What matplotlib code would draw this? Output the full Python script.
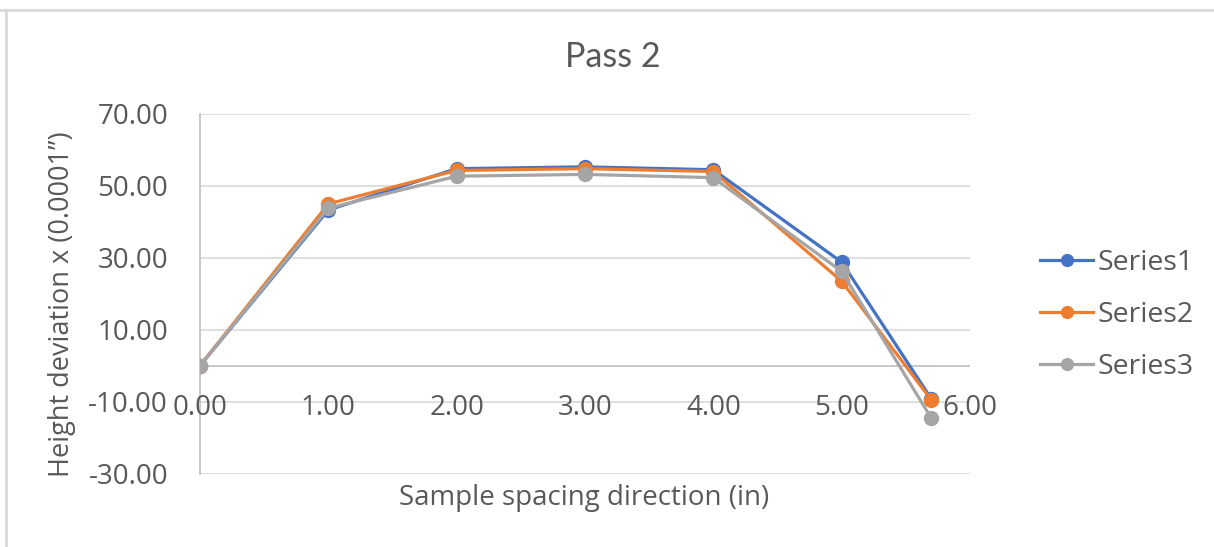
import matplotlib
matplotlib.use("Agg")
import matplotlib.pyplot as plt
from matplotlib.lines import Line2D

# Sample positions along the pass (in) and height deviations (x 0.0001")
x_pos = [0.0, 1.0, 2.0, 3.0, 4.0, 5.0, 5.7]
series1 = [0.0, 43.3, 54.8, 55.3, 54.5, 28.8, -9.3]
series2 = [0.0, 45.0, 54.3, 54.8, 54.0, 23.5, -9.6]
series3 = [0.0, 43.8, 52.7, 53.2, 52.3, 26.2, -14.7]
series_names = ["Series1", "Series2", "Series3"]
series_colors = ["#4472C4", "#ED7D31", "#A5A5A5"]

x_ticks = [0, 1, 2, 3, 4, 5, 6]
y_ticks = [-30, -10, 10, 30, 50, 70]

title = "Pass 2"
x_title = "Sample spacing direction (in)"
y_title = "Height deviation x (0.0001\u201d)"

text_color = "#595959"
grid_color = "#D9D9D9"
axis_color = "#BFBFBF"
tick_size = 20

W, H = 1214, 547
fig = plt.figure(figsize=(W / 100, H / 100), dpi=100)
ax = fig.add_axes([200 / W, 1 - 473.5 / H, 770 / W, 359.5 / H])

for ys, name, col in zip([series1, series2, series3], series_names, series_colors):
    ax.plot(x_pos, ys, color=col, lw=2.3, marker="o", markersize=10,
            markeredgecolor=col, markerfacecolor=col, label=name,
            solid_joinstyle="round", zorder=3)

ax.set_xlim(0, 6)
ax.set_ylim(-30, 70)
ax.set_yticks(y_ticks)
ax.set_yticklabels([f"{v:.2f}" for v in y_ticks])
ax.set_xticks(x_ticks)
ax.set_xticklabels([])

# Horizontal gridlines and the category axis at y = 0
for v in y_ticks:
    ax.axhline(v, color=grid_color, lw=1.2, zorder=1)
ax.axhline(0, color=axis_color, lw=1.2, zorder=1)

for s in ["top", "right", "bottom"]:
    ax.spines[s].set_visible(False)
ax.spines["left"].set_color(axis_color)
ax.spines["left"].set_linewidth(1.2)
ax.spines["left"].set_zorder(1)

ax.tick_params(axis="both", length=0, colors=text_color, labelsize=tick_size)
ax.tick_params(axis="y", pad=23)
for lab in ax.get_yticklabels():
    lab.set_fontfamily("Open Sans")

# X tick labels sit just under the axis line at y = 0
for v in x_ticks:
    ax.text(v, -8.0, f"{v:.2f}", ha="center", va="top", fontsize=tick_size,
            color=text_color, family="Open Sans", zorder=2)

fig.text(613 / W, 1 - 57 / H, title, ha="center", va="center",
         fontsize=24.5, color=text_color, family="Lato")
fig.text(584 / W, 1 - 498 / H, x_title, ha="center", va="center",
         fontsize=20, color=text_color, family="Open Sans")
fig.text(62 / W, 1 - 304 / H, y_title, ha="center", va="center",
         rotation=90, fontsize=19.5, color=text_color, family="Open Sans")

leg = ax.legend(loc="center left", bbox_to_anchor=(1.091, 0.44), frameon=False,
                prop={"family": "Open Sans", "size": 20.5}, handlelength=1.86,
                handletextpad=0.15, labelspacing=0.84, markerscale=0.85,
                borderpad=0, borderaxespad=0)
for t in leg.get_texts():
    t.set_color(text_color)

# Chart-area border (top and left edges)
fig.add_artist(Line2D([0, 1], [1 - 10 / H, 1 - 10 / H], transform=fig.transFigure,
                      color="#D9D9D9", lw=2))
fig.add_artist(Line2D([6 / W, 6 / W], [0, 1 - 10 / H], transform=fig.transFigure,
                      color="#D9D9D9", lw=2))

fig.savefig("out.png", dpi=100)
